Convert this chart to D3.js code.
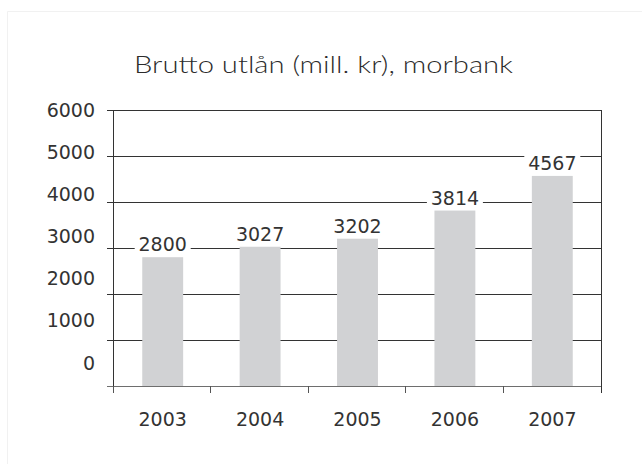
<!DOCTYPE html>
<html>
<head>
<meta charset="utf-8">
<script src="https://cdn.jsdelivr.net/npm/d3@7"></script>
<style>
  body { margin: 0; background: #fff; }
  svg { display: block; }
  text { font-family: "DejaVu Sans", sans-serif; fill: #333; }
  .title { font-family: Lato, "Open Sans", sans-serif; font-weight: 300; fill: #2b2b2b; }
</style>
</head>
<body>
<svg id="chart"></svg>
<script>
// Brutto utlån, morbank

var years = ["2003", "2004", "2005", "2006", "2007"]
  , values = [2800, 3027, 3202, 3814, 4567]
  , yTicks = [0, 1000, 2000, 3000, 4000, 5000, 6000]
  , title = "Brutto utlån (mill. kr), morbank"
  ;

// note: "top" is reserved on window, so plot edges get a prefix
var width = 642, height = 464
  , plotLeft = 114, plotRight = 601, plotTop = 110, plotBottom = 386
  , fontSize = 19
  ;

var svg = d3.select("#chart")
            .attr("width", width)
            .attr("height", height);

svg.append("rect")
   .attr("width", width)
   .attr("height", height)
   .attr("fill", "#fff");

// faint outer frame (only top and left visible)
svg.append("path")
   .attr("d", "M7.5," + height + "V11.5H" + width)
   .attr("fill", "none")
   .attr("stroke", "#f1f1f1");

svg.append("text")
   .attr("class", "title")
   .attr("x", 323.5)
   .attr("y", 73)
   .attr("text-anchor", "middle")
   .attr("font-size", 24)
   .attr("textLength", 379)
   .attr("lengthAdjust", "spacingAndGlyphs")
   .text(title);

var x = d3.scaleBand()
          .domain(years)
          .range([plotLeft, plotRight])
          .paddingInner(0.58)
          .paddingOuter(0.29);

var y = d3.scaleLinear()
          .domain([0, 6000])
          .range([plotBottom, plotTop]);

// tick labels in the original sit on their own, slightly tighter, spacing
var yLabel = d3.scaleLinear()
               .domain([0, 6000])
               .range([363, 110]);

// gridlines + left ticks
var grid = svg.append("g")
              .attr("transform", "translate(" + (plotLeft - 7) + ",0)")
              .call(d3.axisLeft(y)
                      .tickValues(yTicks.slice(1))
                      .tickSize(-(plotRight - plotLeft + 7))
                      .tickFormat(""));
grid.select(".domain").remove();
grid.selectAll("line")
    .attr("stroke", "#333")
    .attr("shape-rendering", "crispEdges");

// y labels
var yl = svg.append("g")
            .attr("transform", "translate(" + (plotLeft - 7) + ",0)")
            .call(d3.axisLeft(yLabel)
                    .tickValues(yTicks)
                    .tickSize(0)
                    .tickPadding(12)
                    .tickFormat(d3.format("d")));
yl.select(".domain").remove();
yl.selectAll("text")
  .attr("font-size", fontSize)
  .attr("font-family", "DejaVu Sans")
  .attr("fill", "#383838");

// bars
svg.selectAll(".bar")
   .data(values)
   .enter().append("rect")
   .attr("class", "bar")
   .attr("x", function (d, i) { return x(years[i]); })
   .attr("y", function (d) { return y(d); })
   .attr("width", x.bandwidth())
   .attr("height", function (d) { return y(0) - y(d); })
   .attr("fill", "#d1d2d4");

// baseline
svg.append("line")
   .attr("x1", plotLeft - 7).attr("x2", plotRight)
   .attr("y1", y(0) + 0.5).attr("y2", y(0) + 0.5)
   .attr("stroke", "#6e6e6e");

// left axis and right border
svg.append("line")
   .attr("x1", plotLeft - 0.5).attr("x2", plotLeft - 0.5)
   .attr("y1", plotTop).attr("y2", plotBottom + 7)
   .attr("stroke", "#333");
svg.append("line")
   .attr("x1", plotRight + 0.5).attr("x2", plotRight + 0.5)
   .attr("y1", plotTop).attr("y2", plotBottom + 7)
   .attr("stroke", "#333");

// category boundary ticks
var step = x.step();
svg.selectAll(".xtick")
   .data(years)
   .enter().append("line")
   .attr("class", "xtick")
   .attr("x1", function (d) { return Math.round(x(d) - step * 0.29) - 0.5; })
   .attr("x2", function (d) { return Math.round(x(d) - step * 0.29) - 0.5; })
   .attr("y1", plotBottom)
   .attr("y2", plotBottom + 7)
   .attr("stroke", "#555");

// x labels
var xl = svg.append("g")
            .attr("transform", "translate(0," + plotBottom + ")")
            .call(d3.axisBottom(x).tickSize(0).tickPadding(27));
xl.select(".domain").remove();
xl.selectAll("text")
  .attr("font-size", fontSize)
  .attr("font-family", "DejaVu Sans")
  .attr("fill", "#383838");

// value labels with white backing that cuts the gridlines
var lab = svg.selectAll(".val")
             .data(values)
             .enter().append("g")
             .attr("class", "val")
             .attr("transform", function (d, i) {
               return "translate(" + (x(years[i]) + x.bandwidth() / 2) + "," + (y(d) - 6) + ")";
             });
lab.append("rect")
   .attr("x", -28)
   .attr("y", -15)
   .attr("width", 56)
   .attr("height", 16)
   .attr("fill", "#fff");
lab.append("text")
   .attr("text-anchor", "middle")
   .attr("font-size", fontSize)
   .attr("fill", "#383838")
   .text(function (d) { return d; });
</script>
</body>
</html>
